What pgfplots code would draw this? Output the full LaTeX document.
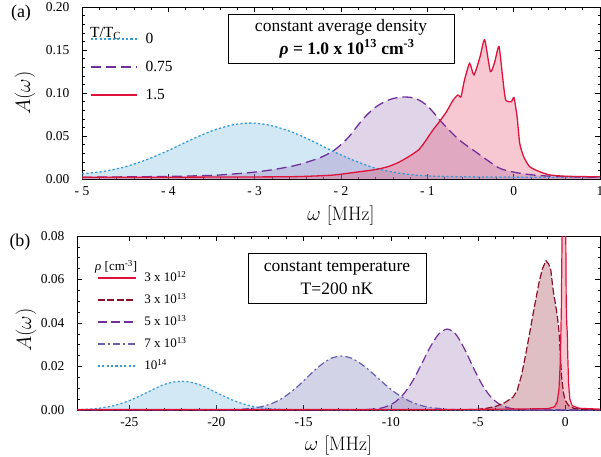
\documentclass[border=0pt]{standalone}
\usepackage{fontspec}
\usepackage{pgfplots}
\pgfplotsset{compat=1.18}
\usepackage{pgfplotstable}
\newfontfamily\tnr{Liberation Serif}

\definecolor{blueL}{RGB}{55,155,215}
\definecolor{blueF}{RGB}{105,178,222}
\definecolor{purL}{RGB}{112,48,155}
\definecolor{purF}{RGB}{152,112,178}
\definecolor{redL}{RGB}{222,18,58}
\definecolor{redF}{RGB}{228,72,105}
\definecolor{dredL}{RGB}{135,18,42}
\definecolor{dredF}{RGB}{150,40,60}
\definecolor{slateL}{RGB}{100,95,175}
\definecolor{slateF}{RGB}{110,110,175}

% ---------- panel (a) ----------
\pgfplotstableread{
w a
-5 0.0060
-4.75 0.0088
-4.5 0.0142
-4.25 0.0225
-4 0.0331
-3.75 0.0450
-3.5 0.0558
-3.25 0.0630
-3.05 0.0650
-2.85 0.0630
-2.6 0.0558
-2.35 0.0450
-2.1 0.0325
-1.85 0.0215
-1.6 0.0125
-1.35 0.0072
-1.1 0.0042
-0.85 0.0031
-0.5 0.0025
0 0.0022
0.5 0.0020
1 0.0020
}\Ablue

\pgfplotstableread{
w a
-5 0.0020
-4.5 0.0025
-4 0.0030
-3.5 0.0042
-3.25 0.0058
-3 0.0080
-2.75 0.0115
-2.5 0.0165
-2.25 0.0245
-2.1 0.0320
-2 0.0400
-1.9 0.0500
-1.8 0.0630
-1.7 0.0745
-1.6 0.0835
-1.5 0.0895
-1.4 0.0935
-1.3 0.0952
-1.2 0.0950
-1.1 0.0920
-1.0 0.0850
-0.9 0.0740
-0.84 0.0667
-0.7 0.0520
-0.6 0.0430
-0.47 0.0337
-0.3 0.0215
-0.16 0.0124
0 0.0080
0.22 0.0047
0.5 0.0030
1 0.0020
}\Apur

\pgfplotstableread{
w a
-5 0.0020
-4 0.0021
-3 0.0024
-2.5 0.0028
-2.1 0.0045
-1.82 0.0080
-1.6 0.0110
-1.45 0.0145
-1.32 0.0200
-1.2 0.0270
-1.1 0.0340
-1.03 0.0430
-0.935 0.0570
-0.86 0.0667
-0.78 0.0780
-0.70 0.0920
-0.645 0.0977
-0.61 0.0957
-0.57 0.1150
-0.51 0.1345
-0.46 0.1210
-0.39 0.1420
-0.336 0.1620
-0.27 0.1250
-0.22 0.1360
-0.17 0.1540
-0.124 0.1150
-0.093 0.0920
-0.027 0.0900
0.004 0.0945
0.04 0.0720
0.07 0.0415
0.116 0.0260
0.185 0.0143
0.30 0.0085
0.42 0.0047
0.6 0.0032
1 0.0025
}\Ared

% ---------- panel (b) ----------
\pgfplotstableread{
w a
-28 0.0001
-27 0.0006
-26.5 0.0011
-26 0.0018
-25.5 0.0029
-25 0.0043
-24.5 0.0061
-24 0.0080
-23.5 0.0100
-23 0.0117
-22.5 0.0128
-22 0.0132
-21.5 0.0128
-21 0.0117
-20.5 0.0100
-20 0.0080
-19.5 0.0061
-19 0.0043
-18.5 0.0029
-18 0.0018
-17.5 0.0011
-17 0.0006
-16 0.0002
-15 0.0001
-10 0.0000
2 0.0000
}\Bfourteen

\pgfplotstableread{
w a
-28 0.0000
-19.85 0.0000
-18.85 0.0002
-17.85 0.0009
-17.35 0.0017
-16.85 0.0029
-16.35 0.0048
-15.85 0.0075
-15.35 0.0108
-14.85 0.0146
-14.35 0.0184
-13.85 0.0217
-13.35 0.0240
-12.85 0.0248
-12.35 0.0241
-11.85 0.0220
-11.35 0.0190
-10.85 0.0155
-10.35 0.0119
-9.85 0.0086
-9.35 0.0059
-8.85 0.0038
-8.35 0.0023
-7.85 0.0013
-6.85 0.0004
-5.85 0.0001
-4 0.0000
2 0.0000
}\Bseven

\pgfplotstableread{
w a
-28 0.0000
-12.75 0.0000
-11.75 0.0001
-10.75 0.0006
-10.25 0.0016
-9.75 0.0037
-9.25 0.0075
-8.75 0.0133
-8.25 0.0209
-7.75 0.0288
-7.25 0.0349
-6.75 0.0372
-6.25 0.0346
-5.75 0.0277
-5.25 0.0192
-4.75 0.0115
-4.25 0.0059
-3.75 0.0026
-3.25 0.0010
-2.75 0.0003
-1.75 0.0000
2 0.0000
}\Bfive

\pgfplotstableread{
w a
-28 0.0000
-7 0.0000
-6 0.0001
-5 0.0003
-4.5 0.0008
-4 0.0016
-3.5 0.0032
-3 0.0058
-2.75 0.0090
-2.5 0.0160
-2.25 0.0260
-2 0.0370
-1.75 0.0480
-1.5 0.0585
-1.3 0.0650
-1.1 0.0686
-0.95 0.0672
-0.82 0.0643
-0.69 0.0552
-0.5 0.0460
-0.4 0.0400
-0.34 0.0350
-0.28 0.0260
-0.2 0.0150
-0.1 0.0080
0 0.0045
0.2 0.0020
0.5 0.0008
1 0.0003
2 0.0001
}\Bthree

\pgfplotstableread{
w a
-28 0.0003
-5 0.0003
-1 0.0006
-0.6 0.0015
-0.45 0.0040
-0.35 0.0100
-0.28 0.0220
-0.22 0.0450
-0.17 0.0850
-0.13 0.1300
-0.09 0.1600
-0.05 0.1400
-0.01 0.1500
0.03 0.0900
0.06 0.0500
0.09 0.0400
0.12 0.0360
0.15 0.0250
0.2 0.0120
0.27 0.0050
0.4 0.0020
0.8 0.0008
2 0.0004
}\Btwelve

\pgfplotsset{
  mystyle/.style={
    scale only axis,
    axis line style={line width=0.8pt},
    every tick/.style={line width=0.6pt, black},
    major tick length=5pt, minor tick length=2.5pt,
    tick align=inside,
    scaled y ticks=false,
    /pgf/number format/assume math mode=true,
    ticklabel style={font=\tnr\fontsize{13.5}{15}\selectfont},
    yticklabel style={xshift=-9pt, /pgf/number format/fixed, /pgf/number format/fixed zerofill, /pgf/number format/precision=2},
    xticklabel style={yshift=-4pt},
    label style={font=\fontsize{19.5}{22}\selectfont},
    clip=true,
  },
  fillst/.style={draw=none, fill=#1, fill opacity=0.3, forget plot},
}

\begin{document}
\begin{tikzpicture}
\path[use as bounding box] (0pt,0pt) rectangle (601pt,456pt);

% ===== panel (a) =====
\begin{axis}[mystyle,
  at={(82pt,277pt)}, anchor=south west,
  width=518pt, height=172pt,
  xmin=-5, xmax=1, ymin=0, ymax=0.2,
  xtick={-5,-4,-3,-2,-1,0,1},
  xticklabels={{- 5},{- 4},{- 3},{- 2},{- 1},0,1},
  minor x tick num=4,
  ytick={0,0.05,0.1,0.15,0.2},
  minor y tick num=4,
  xlabel={$\omega$ [MHz]}, ylabel={$A(\omega)$},
  xlabel style={at={(axis description cs:0.5,-0.215)}, anchor=center},
  ylabel style={at={(axis description cs:-0.110,0.5)}, anchor=center},
  legend style={draw=none, fill=none, at={(rel axis cs:0.0154,0.855)}, anchor=north west,
    inner sep=0pt, row sep=14pt, font=\tnr\fontsize{15.5}{17}\selectfont,
    nodes={inner sep=0pt, text height=11pt, text depth=3pt}},
  legend cell align=left,
  legend image code/.code={\draw[#1, line width=1.4pt] (0pt,0pt) -- (46pt,0pt); \path (54pt,0pt);},
]
\addplot[fillst=blueF, smooth] table[x=w,y=a]{\Ablue} \closedcycle;
\addplot[fillst=purF, smooth] table[x=w,y=a]{\Apur} \closedcycle;
\addplot[fillst=redF, smooth, tension=0.35] table[x=w,y=a]{\Ared} \closedcycle;
\addplot[blueL, line width=1.3pt, dash pattern=on 2.2pt off 2.2pt, smooth] table[x=w,y=a]{\Ablue};
\addlegendentry{0}
\addplot[purL, line width=1.3pt, dash pattern=on 10pt off 5pt, smooth] table[x=w,y=a]{\Apur};
\addlegendentry{0.75}
\addplot[redL, line width=1.3pt, smooth, tension=0.35] table[x=w,y=a]{\Ared};
\addlegendentry{1.5}
\node[anchor=base west, inner sep=0pt, font=\tnr\fontsize{15.5}{17}\selectfont]
  at (rel axis cs:0.0154,0.825) {T/T\textsubscript{C}};
\end{axis}

% ===== panel (b) =====
\begin{axis}[mystyle,
  at={(77pt,46pt)}, anchor=south west,
  width=523pt, height=174pt,
  xmin=-28, xmax=2, ymin=0, ymax=0.08,
  xtick={-25,-20,-15,-10,-5,0},
  xticklabels={-25,-20,-15,-10,-5,0},
  minor x tick num=4,
  ytick={0,0.02,0.04,0.06,0.08},
  minor y tick num=3,
  xlabel={$\omega$ [MHz]}, ylabel={$A(\omega)$},
  xlabel style={at={(axis description cs:0.5,-0.207)}, anchor=center},
  ylabel style={at={(axis description cs:-0.0975,0.46)}, anchor=center},
  legend style={draw=none, fill=none, at={(rel axis cs:0.038,0.797)}, anchor=north west,
    inner sep=0pt, row sep=9pt, font=\tnr\fontsize{13}{15}\selectfont,
    nodes={inner sep=0pt, text height=10pt, text depth=3pt}},
  legend cell align=left,
  reverse legend,
  legend image code/.code={\draw[#1, line width=1.3pt] (0pt,0pt) -- (38pt,0pt); \path (46pt,0pt);},
]
\addplot[fillst=blueF, smooth] table[x=w,y=a]{\Bfourteen} \closedcycle;
\addplot[fillst=slateF, smooth] table[x=w,y=a]{\Bseven} \closedcycle;
\addplot[fillst=purF, smooth] table[x=w,y=a]{\Bfive} \closedcycle;
\addplot[fillst=dredF] table[x=w,y=a]{\Bthree} \closedcycle;
\addplot[fillst=redF] table[x=w,y=a]{\Btwelve} \closedcycle;
\addplot[blueL, line width=1.2pt, dash pattern=on 2.2pt off 2.2pt, smooth] table[x=w,y=a]{\Bfourteen};
\addlegendentry{10\textsuperscript{14}}
\addplot[slateL, line width=1.2pt, dash pattern=on 7pt off 3pt on 2pt off 3pt, smooth] table[x=w,y=a]{\Bseven};
\addlegendentry{7 x 10\textsuperscript{13}}
\addplot[purL, line width=1.2pt, dash pattern=on 9pt off 4pt, smooth] table[x=w,y=a]{\Bfive};
\addlegendentry{5 x 10\textsuperscript{13}}
\addplot[dredL, line width=1.2pt, dash pattern=on 7pt off 2.5pt] table[x=w,y=a]{\Bthree};
\addlegendentry{3 x 10\textsuperscript{13}}
\addplot[redL, line width=1.2pt] table[x=w,y=a]{\Btwelve};
\addlegendentry{3 x 10\textsuperscript{12}}
\node[anchor=base west, inner sep=0pt, font=\tnr\fontsize{13}{15}\selectfont]
  at (rel axis cs:0.0344,0.80) {\textit{ρ} [cm\textsuperscript{-3}]};
\end{axis}

% ===== text =====
\node[font=\tnr\fontsize{18}{20}\selectfont] at (21pt,442.5pt) {(a)};
\node[font=\tnr\fontsize{18}{20}\selectfont] at (20pt,214pt) {(b)};
\node[draw, fill=white, line width=0.8pt, minimum width=226pt, minimum height=49pt, inner sep=0pt,
  align=center, font=\tnr\fontsize{17.5}{23}\selectfont] at (341pt,417.5pt)
  {constant average density\\ \hspace*{12pt}{\bfseries\itshape ρ}\textbf{ = 1.0 x 10\textsuperscript{13} cm\textsuperscript{-3}}};
\node[draw, fill=white, line width=0.8pt, minimum width=178pt, minimum height=50pt, inner sep=0pt,
  align=center, font=\tnr\fontsize{17.5}{23}\selectfont] at (337pt,178pt)
  {constant temperature\\ T=200 nK};
\end{tikzpicture}
\end{document}
